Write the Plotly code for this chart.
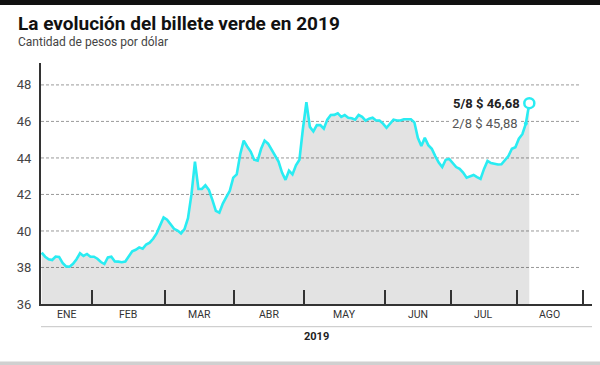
import plotly.graph_objects as go

# ---- data (trading-day index, pesos per dollar) ----
day = list(range(141))
rate = [
    38.81, 38.59, 38.45, 38.41, 38.60, 38.58, 38.25, 38.06, 38.04, 38.20,
    38.45, 38.78, 38.63, 38.74, 38.59, 38.59, 38.48, 38.30, 38.19, 38.55,
    38.59, 38.33, 38.32, 38.29, 38.33, 38.62, 38.89, 38.97, 39.10, 39.03,
    39.26, 39.36, 39.57, 39.87, 40.30, 40.74, 40.62, 40.35, 40.12, 40.02,
    39.87, 40.10, 40.70, 42.00, 43.80, 42.30, 42.30, 42.50, 42.25, 41.70,
    41.10, 41.00, 41.50, 41.85, 42.20, 42.92, 43.10, 44.20, 44.95, 44.63,
    44.35, 43.90, 43.85, 44.50, 44.95, 44.78, 44.45, 44.10, 43.80, 43.20,
    42.80, 43.30, 43.10, 43.60, 43.90, 45.60, 47.05, 45.70, 45.45, 45.80,
    45.80, 45.60, 46.10, 46.35, 46.36, 46.45, 46.25, 46.35, 46.20, 46.17,
    46.10, 46.35, 46.25, 46.04, 46.15, 46.20, 46.05, 46.05, 45.88, 45.65,
    45.85, 46.10, 46.05, 46.05, 46.12, 46.12, 46.12, 45.95, 45.10, 44.65,
    45.10, 44.70, 44.50, 44.10, 43.75, 43.50, 43.90, 43.95, 43.75, 43.50,
    43.40, 43.20, 42.92, 43.00, 43.07, 42.95, 42.85, 43.40, 43.84, 43.72,
    43.68, 43.64, 43.65, 43.85, 44.10, 44.50, 44.59, 45.05, 45.30, 45.88,
    47.00,
]
month_bounds = [-0.2, 14.36, 35.26, 55.35, 75.45, 98.56, 117.5, 136.46, 155.4]
month_labels = ["ENE", "FEB", "MAR", "ABR", "MAY", "JUN", "JUL", "AGO"]
y_ticks = [36, 38, 40, 42, 44, 46, 48]
label_last = "<b>5/8 $ 46,68</b>"
label_prev = "2/8 $ 45,88"

CYAN = "#29ecf2"
FONT = "Roboto"

fig = go.Figure()

# gray area
fig.add_trace(go.Scatter(x=day, y=rate, mode="lines", line=dict(width=0),
                         fill="tozeroy", fillcolor="rgba(0,0,0,0.11)",
                         hoverinfo="skip", showlegend=False))
# cyan line
fig.add_trace(go.Scatter(x=day, y=rate, mode="lines",
                         line=dict(color=CYAN, width=2.6, shape="linear"),
                         showlegend=False))
# 2/8 dot
fig.add_trace(go.Scatter(x=[day[-2]], y=[rate[-2]], mode="markers",
                         marker=dict(color=CYAN, size=4), showlegend=False))
# 5/8 open circle
fig.add_trace(go.Scatter(x=[day[-1]], y=[rate[-1]], mode="markers",
                         marker=dict(color="white", size=10,
                                     line=dict(color=CYAN, width=2.5)),
                         showlegend=False))

shapes = []
# dashed gridlines
for v in y_ticks[1:]:
    shapes.append(dict(type="line", xref="paper", yref="y", x0=0, x1=0.978,
                       y0=v, y1=v, line=dict(color="#9a9a9a", width=1, dash="3px,2px"),
                       layer="below"))
# top black bar
shapes.append(dict(type="rect", xref="paper", yref="paper", x0=-0.1, x1=1.1,
                   y0=1.2407, y1=1.30, fillcolor="#111", line=dict(width=0)))
# separator under month labels
shapes.append(dict(type="line", xref="paper", yref="paper", x0=0, x1=1,
                   y0=-0.0942, y1=-0.0942, line=dict(color="#c4c4c4", width=1)))
# bottom gray band
shapes.append(dict(type="rect", xref="paper", yref="paper", x0=-0.1, x1=1.1,
                   y0=-0.27, y1=-0.239, fillcolor="#d0d0d0", line=dict(width=0)))

annotations = []
for i, lab in enumerate(month_labels):
    mid = (month_bounds[i] + month_bounds[i + 1]) / 2
    annotations.append(dict(x=mid, xref="x", y=-0.0456, yref="paper", text=lab,
                            showarrow=False, font=dict(family=FONT, size=10.5, color="#333"),
                            xanchor="center", yanchor="middle"))
annotations += [
    dict(x=0.5, xref="paper", y=-0.170, yref="paper", text="<b>2019</b>",
         showarrow=False, font=dict(family=FONT, size=11, color="#222")),
    dict(x=-0.0454, xref="paper", y=1.162, yref="paper",
         text="<b>La evolución del billete verde en 2019</b>", showarrow=False,
         xanchor="left", yanchor="middle", font=dict(family=FONT, size=19, color="#111")),
    dict(x=-0.0454, xref="paper", y=1.087, yref="paper",
         text="Cantidad de pesos por dólar", showarrow=False,
         xanchor="left", yanchor="middle", font=dict(family=FONT, size=12, color="#444")),
    dict(x=day[-1], y=rate[-1], xref="x", yref="y", text=label_last, showarrow=False,
         xanchor="right", yanchor="middle", xshift=-7,
         font=dict(family=FONT, size=13, color="#222")),
    dict(x=day[-2], y=rate[-2], xref="x", yref="y", text=label_prev, showarrow=False,
         xanchor="right", yanchor="middle", xshift=-6, bgcolor="white", borderpad=1,
         font=dict(family=FONT, size=13, color="#555")),
]

fig.update_layout(
    width=600, height=365,
    margin=dict(l=41, r=8, t=63, b=61),
    paper_bgcolor="white", plot_bgcolor="white",
    shapes=shapes, annotations=annotations,
    xaxis=dict(range=[month_bounds[0], 158.0], tickvals=month_bounds[1:],
               ticktext=[""] * (len(month_bounds) - 1),
               ticks="inside", ticklen=14, tickwidth=2, tickcolor="#333",
               showline=True, linewidth=2, linecolor="#333",
               showgrid=False, zeroline=False, fixedrange=True),
    yaxis=dict(range=[36, 49.2], tickvals=y_ticks, showgrid=False, zeroline=False,
               showline=True, linewidth=2, linecolor="#333", ticks="",
               ticklabelstandoff=5, fixedrange=True,
               tickfont=dict(family=FONT, size=13, color="#444")),
    showlegend=False,
)

fig.write_html("out.html", config={"displayModeBar": False},
               post_script="document.body.style.margin='0px';")
